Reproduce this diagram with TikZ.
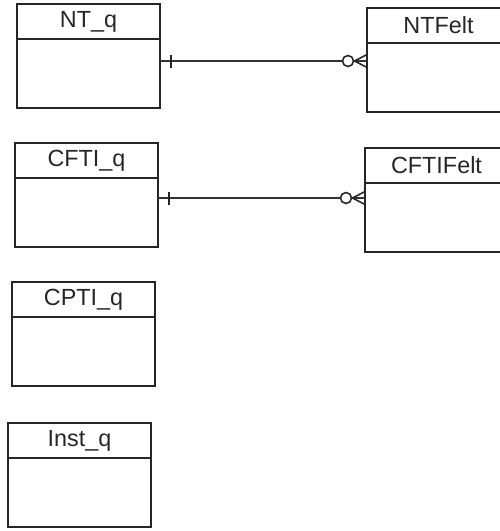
\documentclass[tikz,border=0pt]{standalone}
\usepackage{fontspec}
\setmainfont{Liberation Sans}
\usepackage{tikz}
\usetikzlibrary{positioning, calc}

\begin{document}
\begin{tikzpicture}[
  enthead/.style={
    draw=black!85, line width=1.1pt, anchor=north west,
    minimum width=2.86cm, minimum height=0.70cm,
    inner sep=0pt, outer sep=0pt,
    font=\fontsize{13.3}{15}\selectfont, text=black!85
  },
  entbody/.style={
    draw=black!85, line width=1.1pt,
    minimum width=2.86cm, minimum height=1.38cm,
    inner sep=0pt, outer sep=0pt
  },
  relline/.style={draw=black!80, line width=0.6pt},
  relmark/.style={draw=black!85, line width=0.9pt}
]
\useasboundingbox (0,0) rectangle (10,-10.62);
\clip (0,0) rectangle (10,-10.62);

% ── Entities, left column ───────────────────────────────────
\node[enthead] (ntq) at (0.34,-0.08) {NT\_q};
\node[entbody, below=0pt of ntq] (ntqb) {};

\node[enthead] (cftiq) at (0.30,-2.86) {CFTI\_q};
\node[entbody, below=0pt of cftiq] (cftiqb) {};

\node[enthead] (cptiq) at (0.24,-5.64) {CPTI\_q};
\node[entbody, below=0pt of cptiq] (cptiqb) {};

\node[enthead] (instq) at (0.16,-8.46) {Inst\_q};
\node[entbody, below=0pt of instq] (instqb) {};

% ── Entities, right column ──────────────────────────────────
\node[enthead] (ntfelt) at (7.34,-0.16) {NTFelt};
\node[entbody, below=0pt of ntfelt] (ntfeltb) {};

\node[enthead] (cftifelt) at (7.30,-2.96) {CFTIFelt};
\node[entbody, below=0pt of cftifelt] (cftifeltb) {};

% ── Relationships (one to zero-or-many) ─────────────────────
\draw[relline] (ntqb.east |- 0,-1.22) coordinate (r1a)
  -- (ntfeltb.west |- 0,-1.22) coordinate (r1b);
\draw[relline] (cftiqb.east |- 0,-3.96) coordinate (r2a)
  -- (cftifeltb.west |- 0,-3.96) coordinate (r2b);

% ── Cardinality marks ───────────────────────────────────────
\foreach \a/\b in {r1a/r1b, r2a/r2b} {
  % one
  \draw[relmark] ($(\a)+(0.22,0.13)$) -- ($(\a)+(0.22,-0.13)$);
  % zero
  \draw[relmark, fill=white] ($(\b)+(-0.38,0)$) circle (0.11);
  % many
  \draw[relmark] ($(\b)+(0,0.13)$) -- ($(\b)+(-0.25,0)$) -- ($(\b)+(0,-0.13)$);
}

\end{tikzpicture}
\end{document}
